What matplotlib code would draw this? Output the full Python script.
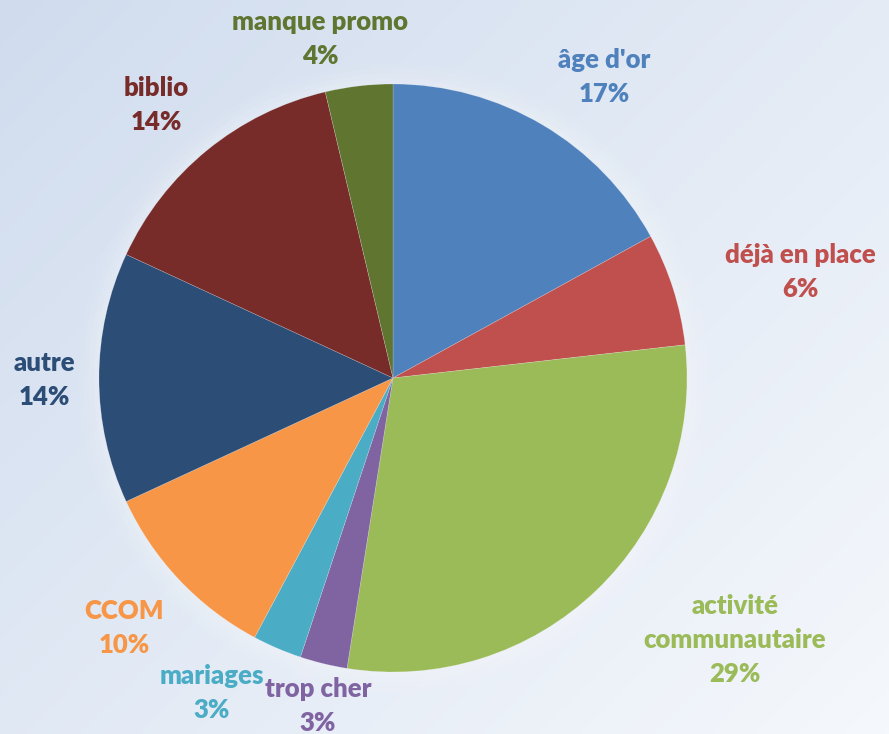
import matplotlib
matplotlib.use("Agg")
import matplotlib.pyplot as plt
import numpy as np
from matplotlib.patches import Circle

categories = ["âge d'or", "déjà en place", "activité\ncommunautaire", "trop cher",
              "mariages", "CCOM", "autre", "biblio", "manque promo"]
values = [17.0, 6.2, 29.3, 2.6, 2.7, 10.3, 13.8, 14.4, 3.7]
pct_labels = ["17%", "6%", "29%", "3%", "3%", "10%", "14%", "14%", "4%"]

wedge_colors = ["#4F81BD", "#C0504D", "#9BBB59", "#8064A2", "#4BACC6",
                "#F79646", "#2C4D75", "#772C2A", "#5F7530"]
text_colors = ["#4F81BD", "#C0504D", "#9BBB59", "#8064A2", "#4BACC6",
               "#F79646", "#2C4D75", "#772C2A", "#5F7530"]

W, H = 889, 734
cx, cy, R = 393, 378, 294
# label centre positions in pixels (layout)
label_px = [(604, 77), (800, 272), (735, 640), (318, 706), (212, 693),
            (124, 628), (44, 380), (156, 105), (320, 39)]

fig = plt.figure(figsize=(W / 100, H / 100), dpi=100)

# background gradient
bg = fig.add_axes([0, 0, 1, 1])
yy, xx = np.mgrid[0:1:200j, 0:1:240j]
t = np.clip((xx * 0.55 + yy * 0.45), 0, 1)
c0 = np.array([0xd0, 0xdc, 0xee]) / 255
c1 = np.array([0xf5, 0xf8, 0xfc]) / 255
img = c0[None, None, :] * (1 - t[..., None]) + c1[None, None, :] * t[..., None]
bg.imshow(img, aspect="auto", extent=[0, 1, 0, 1], origin="upper")
bg.axis("off")

ax = fig.add_axes([0, 0, 1, 1])

# soft halo
for i, a in enumerate([0.05, 0.06, 0.08, 0.10]):
    ax.add_patch(Circle((0, 0), 1 + 0.018 * (4 - i), color="white", alpha=a, lw=0, zorder=0))

ax.pie(values, colors=wedge_colors, startangle=90, counterclock=False,
       radius=1, center=(0, 0), wedgeprops=dict(linewidth=0.4, edgecolor=(1, 1, 1, 0.3)),
       frame=True)
ax.set_xlim(-cx / R, (W - cx) / R)
ax.set_ylim(-(H - cy) / R, cy / R)
ax.set_aspect("equal")
ax.axis("off")

for cat, pct, col, (px, py) in zip(categories, pct_labels, text_colors, label_px):
    x = (px - cx) / R
    y = (cy - py) / R
    ax.text(x, y, f"{cat}\n{pct}", ha="center", va="center", color=col,
            fontsize=18.5, fontweight="heavy", family=["Lato", "DejaVu Sans"],
            linespacing=1.52)

fig.savefig("out.png", dpi=100)
